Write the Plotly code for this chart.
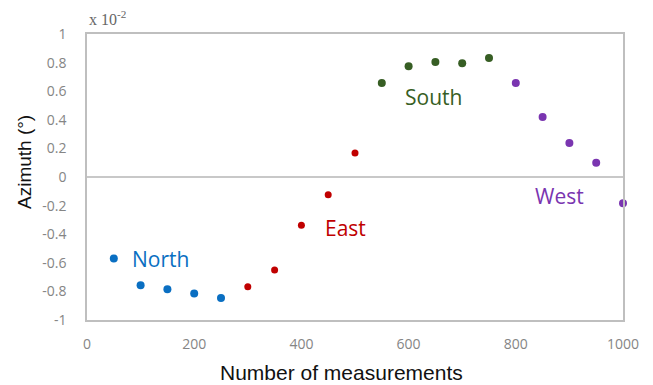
import plotly.graph_objects as go

north_x = [50, 100, 150, 200, 250]
north_y = [-0.57, -0.757, -0.785, -0.815, -0.846]
east_x = [300, 350, 400, 450, 500]
east_y = [-0.767, -0.65, -0.338, -0.124, 0.168]
south_x = [550, 600, 650, 700, 750]
south_y = [0.657, 0.774, 0.804, 0.795, 0.832]
west_x = [800, 850, 900, 950, 1000]
west_y = [0.657, 0.42, 0.238, 0.10, -0.184]

x_ticks = [0, 200, 400, 600, 800, 1000]
y_ticks = [-1, -0.8, -0.6, -0.4, -0.2, 0, 0.2, 0.4, 0.6, 0.8, 1]
y_tick_text = ["-1", "-0.8", "-0.6", "-0.4", "-0.2", "0", "0.2", "0.4", "0.6", "0.8", "1"]

series = [
    ("North", north_x, north_y, "#0A6FC2", 8),
    ("East", east_x, east_y, "#C00000", 7),
    ("South", south_x, south_y, "#375E24", 8),
    ("West", west_x, west_y, "#7A35B0", 8),
]

fig = go.Figure()
for name, xs, ys, col, sz in series:
    fig.add_trace(go.Scatter(x=xs, y=ys, mode="markers", name=name,
                             marker=dict(color=col, size=sz), cliponaxis=False))

labels = [
    ("North", 80, -0.57, "#0A6FC2"),
    ("East", 440, -0.36, "#C00000"),
    ("South", 590, 0.56, "#375E24"),
    ("West", 832, -0.13, "#7A35B0"),
]
for txt, lx, ly, col in labels:
    fig.add_annotation(x=lx, y=ly, text=txt, showarrow=False, xanchor="left",
                       font=dict(family="Open Sans, Arial, sans-serif", size=21, color=col))

fig.add_annotation(xref="paper", yref="paper", x=0.0, y=1.0, yshift=4, xanchor="left", yanchor="bottom",
                   text="x 10<sup>-2</sup>", showarrow=False,
                   font=dict(family="Liberation Serif, Times New Roman, serif", size=16, color="#666666"))

# axis titles (placed as in the reference, slightly off-centre)
fig.add_annotation(xref="paper", yref="paper", x=(341 - 87) / 536, y=-(372 - 320) / 286,
                   xanchor="center", yanchor="middle", showarrow=False,
                   text="Number of measurements",
                   font=dict(size=21, color="#111111", family="Liberation Sans, Arial, sans-serif"))
fig.add_annotation(xref="paper", yref="paper", x=(24 - 87) / 536, y=(320 - 162) / 286,
                   xanchor="center", yanchor="middle", showarrow=False, textangle=-90,
                   text="Azimuth (°)",
                   font=dict(size=19, color="#111111", family="Liberation Sans, Arial, sans-serif"))

fig.update_layout(
    width=653, height=385,
    margin=dict(l=87, r=30, t=34, b=65),
    paper_bgcolor="white", plot_bgcolor="white",
    showlegend=False,
    font=dict(family="Open Sans, Arial, sans-serif"),
)
fig.update_xaxes(range=[0, 1000], tickvals=x_ticks, showgrid=False, zeroline=False,
                 showline=True, linecolor="#BFBFBF", linewidth=1.5, mirror=True,
                 ticks="", ticklabelstandoff=10,
                 tickfont=dict(size=14, color="#858585"))
fig.update_yaxes(range=[-1, 1], tickvals=y_ticks, ticktext=y_tick_text, showgrid=False,
                 zeroline=True, zerolinecolor="#C8C8C8", zerolinewidth=1.5,
                 showline=True, linecolor="#BFBFBF", linewidth=1.5, mirror=True,
                 ticks="", ticklabelstandoff=16,
                 tickfont=dict(size=14, color="#858585"))

fig.write_html("out.html")
